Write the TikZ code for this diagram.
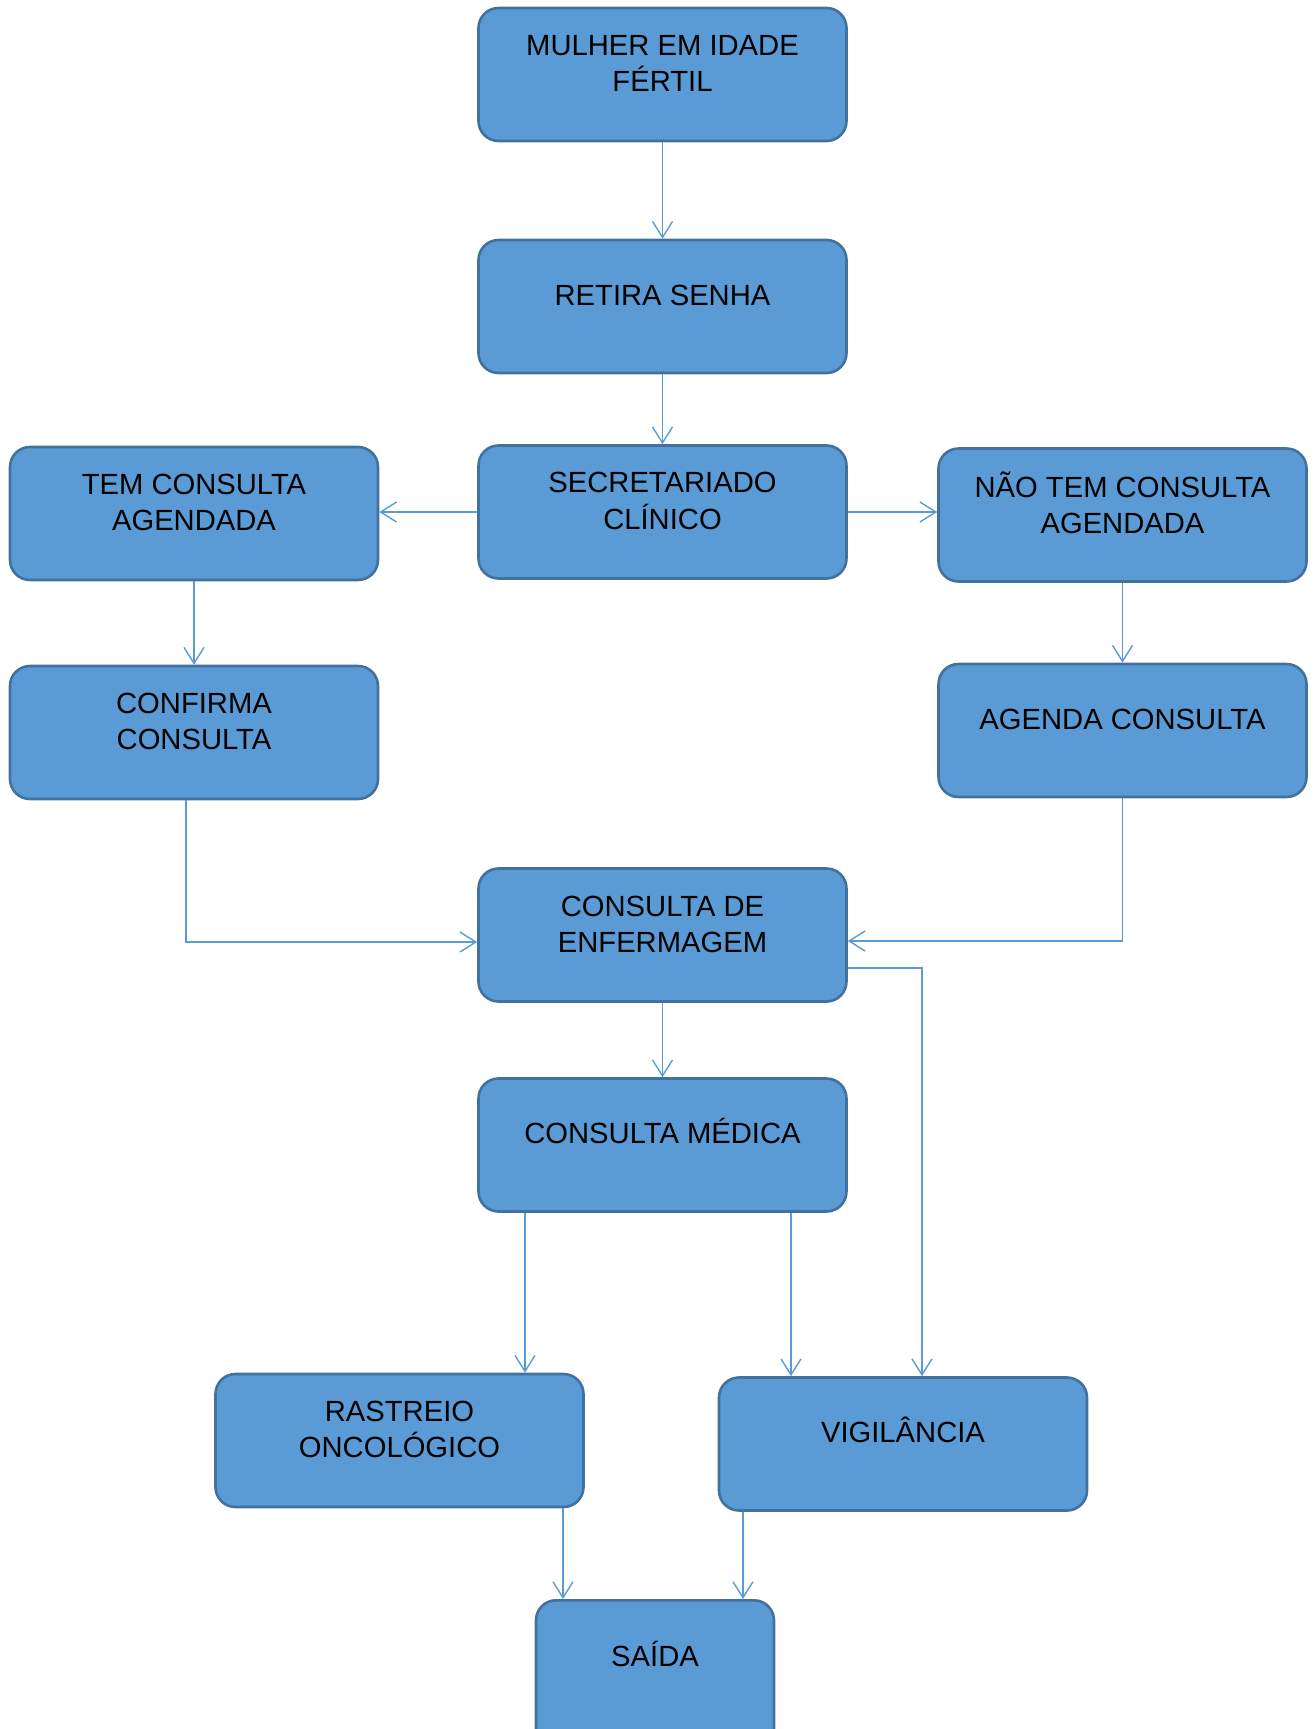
\documentclass[tikz,border=0pt]{standalone}
\usepackage{fontspec}
\setmainfont{Liberation Sans}
\usetikzlibrary{arrows.meta}
\definecolor{boxfill}{HTML}{5B9BD5}
\definecolor{boxline}{HTML}{41719C}
\definecolor{arrline}{HTML}{5B9BD5}
\begin{document}
\begin{tikzpicture}[x=0.5pt,y=-0.5pt,
  box/.style={draw=boxline, fill=boxfill, line width=1.3pt, rounded corners=10pt,
    minimum width=184pt, minimum height=66.5pt, inner sep=0pt},
  txt/.style={align=center, inner sep=0pt, font=\fontsize{14.6}{18}\selectfont,
    execute at begin node=\strut, execute at end node=\strut},
  arr/.style={draw=arrline, line width=0.7pt, -{Straight Barb[length=8pt,width=10pt,line width=0.7pt]}}]
\useasboundingbox (0,0) rectangle (1316,1729);
% boxes
\node[box] (mulher) at (662.5,74.5) {};
\node[box] (retira) at (662.5,306.5) {};
\node[box] (sec) at (662.5,512) {};
\node[box] (tem) at (194,513.5) {};
\node[box] (nao) at (1122.5,515) {};
\node[box] (confirma) at (194,732.5) {};
\node[box] (agenda) at (1122.5,730.5) {};
\node[box] (enf) at (662.5,935) {};
\node[box] (medica) at (662.5,1145) {};
\node[box] (rastreio) at (399.5,1440.5) {};
\node[box] (vig) at (903,1444) {};
\node[box, minimum width=119pt, minimum height=76pt, anchor=north] (saida) at (655,1599) {};
% texts
\node[txt] (mulher-t) at ([yshift=-31pt]mulher.north) {MULHER EM IDADE\\FÉRTIL};
\node[txt] (retira-t) at ([yshift=-29.6pt]retira.north) {RETIRA SENHA};
\node[txt] (sec-t) at ([yshift=-31pt]sec.north) {SECRETARIADO\\CLÍNICO};
\node[txt] (tem-t) at ([yshift=-31pt]tem.north) {TEM CONSULTA\\AGENDADA};
\node[txt] (nao-t) at ([yshift=-30.6pt]nao.north) {NÃO TEM CONSULTA\\AGENDADA};
\node[txt] (confirma-t) at ([yshift=-31pt]confirma.north) {CONFIRMA\\CONSULTA};
\node[txt] (agenda-t) at ([yshift=-29.6pt]agenda.north) {AGENDA CONSULTA};
\node[txt] (enf-t) at ([yshift=-31pt]enf.north) {CONSULTA DE\\ENFERMAGEM};
\node[txt] (medica-t) at ([yshift=-29.6pt]medica.north) {CONSULTA MÉDICA};
\node[txt] (rastreio-t) at ([yshift=-31pt]rastreio.north) {RASTREIO\\ONCOLÓGICO};
\node[txt] (vig-t) at ([yshift=-29.6pt]vig.north) {VIGILÂNCIA};
\node[txt] (saida-t) at ([yshift=-30.3pt]saida.north) {SAÍDA};
% helper coordinates
\coordinate (c1) at ([xshift=-4pt]confirma.south);
\coordinate (e1) at ([yshift=-3.5pt]enf.west);
\coordinate (e2) at ([yshift=-3pt]enf.east);
\coordinate (e3) at ([yshift=-16.5pt]enf.east);
\coordinate (v1) at ([xshift=9.5pt]vig.north);
\coordinate (v2) at ([xshift=-56pt]vig.north);
\coordinate (r1) at ([xshift=62.75pt]rastreio.north);
\coordinate (s1) at ([xshift=-46pt]saida.north);
\coordinate (s2) at ([xshift=44pt]saida.north);
% connectors
\draw[arr] (mulher.south) -- (retira.north);
\draw[arr] (retira.south) -- (sec.north);
\draw[arr] (sec.west) -- (sec.west -| tem.east);
\draw[arr] (sec.east) -- (sec.east -| nao.west);
\draw[arr] (tem.south) -- (confirma.north);
\draw[arr] (nao.south) -- (agenda.north);
\draw[arr] (c1) |- (e1);
\draw[arr] (agenda.south) |- (e2);
\draw[arr] (e3) -| (v1);
\draw[arr] (enf.south) -- (medica.north);
\draw[arr] (medica.south -| r1) -- (r1);
\draw[arr] (medica.south -| v2) -- (v2);
\draw[arr] (rastreio.south -| s1) -- (s1);
\draw[arr] (vig.south -| s2) -- (s2);
\end{tikzpicture}
\end{document}
